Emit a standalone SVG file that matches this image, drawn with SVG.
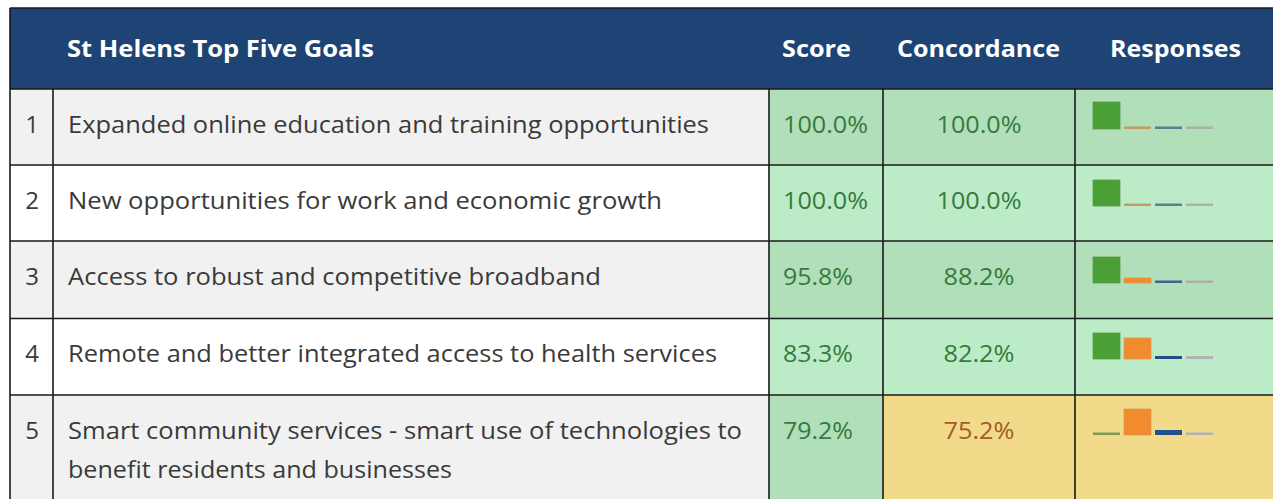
<svg xmlns="http://www.w3.org/2000/svg" width="1273" height="499" viewBox="0 0 1273 499">
<style>
.hd{fill:#1d4475}
.ht{font-family:"Open Sans","Noto Sans",sans-serif;font-weight:bold;font-size:23px;fill:#ffffff}
.g{fill:#f1f1f1}
.w{fill:#ffffff}
.dk{fill:#b1dfb9}
.lt{fill:#bcecc7}
.yl{fill:#f2da8b}
.num{font-family:"Open Sans","Noto Sans",sans-serif;font-size:24px;fill:#3a3a3a;text-anchor:middle}
.tx{font-family:"Open Sans","Noto Sans",sans-serif;font-size:24px;fill:#3a3a3a}
.sc{font-family:"Open Sans","Noto Sans",sans-serif;font-size:24px;fill:#367a3c}
.cc{font-family:"Open Sans","Noto Sans",sans-serif;font-size:24px;fill:#367a3c;text-anchor:middle}
.cb{fill:#a45a28}
.ln{stroke:#1a1a1a;stroke-width:1.6;fill:none}
.bg{fill:#4a9f35;stroke:#5d9a4a;stroke-width:0.8}
.bo{fill:#f28b2b;stroke:#d99a5a;stroke-width:0.8}
.bb{fill:#224f8e}
.bgr{fill:#b3b3b3}
</style>
<g id="header">
<rect class="hd" x="10" y="8" width="1263" height="81"/>
<text class="ht" x="67" y="57" textLength="307" lengthAdjust="spacingAndGlyphs">St Helens Top Five Goals</text>
<text class="ht" x="782" y="57" textLength="69" lengthAdjust="spacingAndGlyphs">Score</text>
<text class="ht" x="897" y="57" textLength="163" lengthAdjust="spacingAndGlyphs">Concordance</text>
<text class="ht" x="1110" y="57" textLength="131" lengthAdjust="spacingAndGlyphs">Responses</text>
</g>
<g id="row1">
<rect class="g" x="10" y="89" width="759" height="76"/>
<rect class="dk" x="769" y="89" width="504" height="76"/>
<text class="num" x="32" y="132.5">1</text>
<text class="tx" x="68" y="132.5" textLength="641" lengthAdjust="spacingAndGlyphs">Expanded online education and training opportunities</text>
<text class="sc" x="783" y="132.5" textLength="85" lengthAdjust="spacingAndGlyphs">100.0%</text>
<text class="cc" x="979" y="132.5" textLength="85" lengthAdjust="spacingAndGlyphs">100.0%</text>
<rect class="bg" x="1093" y="102" width="27" height="27"/>
<rect x="1124" y="126.5" width="27" height="2.5" fill="#c39a66"/>
<rect x="1155" y="126.5" width="27" height="2.5" fill="#5d7f92"/>
<rect x="1186" y="126.5" width="27" height="2.5" fill="#a9b1a9"/>
</g>
<g id="row2">
<rect class="w" x="10" y="165" width="759" height="76"/>
<rect class="lt" x="769" y="165" width="504" height="76"/>
<text class="num" x="32" y="209">2</text>
<text class="tx" x="68" y="209" textLength="594" lengthAdjust="spacingAndGlyphs">New opportunities for work and economic growth</text>
<text class="sc" x="783" y="209" textLength="85" lengthAdjust="spacingAndGlyphs">100.0%</text>
<text class="cc" x="979" y="209" textLength="85" lengthAdjust="spacingAndGlyphs">100.0%</text>
<rect class="bg" x="1093" y="180" width="27" height="26"/>
<rect x="1124" y="203.5" width="27" height="2.5" fill="#c39a66"/>
<rect x="1155" y="203.5" width="27" height="2.5" fill="#5d7f92"/>
<rect x="1186" y="203.5" width="27" height="2.5" fill="#a9b1a9"/>
</g>
<g id="row3">
<rect class="g" x="10" y="241" width="759" height="77.5"/>
<rect class="dk" x="769" y="241" width="504" height="77.5"/>
<text class="num" x="32" y="285">3</text>
<text class="tx" x="68" y="285" textLength="533" lengthAdjust="spacingAndGlyphs">Access to robust and competitive broadband</text>
<text class="sc" x="783" y="285" textLength="70" lengthAdjust="spacingAndGlyphs">95.8%</text>
<text class="cc" x="979" y="285" textLength="71" lengthAdjust="spacingAndGlyphs">88.2%</text>
<rect class="bg" x="1093" y="257" width="27" height="26"/>
<rect class="bo" x="1124" y="278" width="27" height="5"/>
<rect x="1155" y="280.5" width="27" height="2.5" fill="#3d6690"/>
<rect x="1186" y="280.5" width="27" height="2.5" fill="#a9b1a9"/>
</g>
<g id="row4">
<rect class="w" x="10" y="318.5" width="759" height="76.5"/>
<rect class="lt" x="769" y="318.5" width="504" height="76.5"/>
<text class="num" x="32" y="362">4</text>
<text class="tx" x="68" y="362" textLength="649" lengthAdjust="spacingAndGlyphs">Remote and better integrated access to health services</text>
<text class="sc" x="783" y="362" textLength="70" lengthAdjust="spacingAndGlyphs">83.3%</text>
<text class="cc" x="979" y="362" textLength="71" lengthAdjust="spacingAndGlyphs">82.2%</text>
<rect class="bg" x="1093" y="333" width="27" height="26"/>
<rect class="bo" x="1124" y="338" width="27" height="21"/>
<rect x="1155" y="356" width="27" height="3" fill="#234f8a"/>
<rect x="1186" y="356" width="27" height="3" class="bgr"/>
</g>
<g id="row5">
<rect class="g" x="10" y="395" width="759" height="104"/>
<rect class="dk" x="769" y="395" width="114" height="104"/>
<rect class="yl" x="883" y="395" width="390" height="104"/>
<text class="num" x="32" y="439">5</text>
<text class="tx" x="68" y="439" textLength="674" lengthAdjust="spacingAndGlyphs">Smart community services - smart use of technologies to</text>
<text class="tx" x="68" y="478" textLength="384" lengthAdjust="spacingAndGlyphs">benefit residents and businesses</text>
<text class="sc" x="783" y="439" textLength="70" lengthAdjust="spacingAndGlyphs">79.2%</text>
<text class="cc cb" x="979" y="439" textLength="71" lengthAdjust="spacingAndGlyphs">75.2%</text>
<rect x="1093" y="432.5" width="27" height="2.5" fill="#7c9c55"/>
<rect class="bo" x="1124" y="409" width="27" height="26"/>
<rect class="bb" x="1155" y="430" width="27" height="5"/>
<rect x="1186" y="432.5" width="27" height="2.5" class="bgr"/>
</g>
<g id="grid">
<path class="ln" d="M10 8H1273M10 8V499M10 89H1273M10 165H1273M10 241H1273M10 318.5H1273M10 395H1273M53 89V499M769 89V499M883 89V499M1075 89V499"/>
</g>
</svg>
